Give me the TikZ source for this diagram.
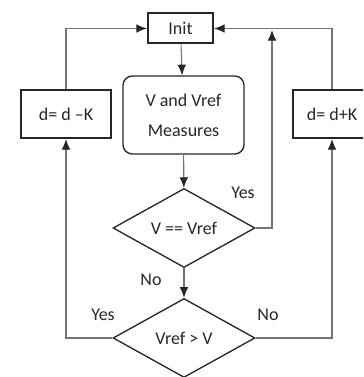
\documentclass[tikz,border=0pt]{standalone}
\usepackage{fontspec}
\setmainfont{Carlito}
\usetikzlibrary{shapes.geometric,arrows.meta}
\begin{document}
\begin{tikzpicture}[x=0.75pt,y=-0.75pt,
  every node/.style={font=\fontsize{13.5}{22.5}\selectfont, text=black!85},
  box/.style={draw=black!85, line width=1.5pt, inner sep=0pt, align=center},
  rbox/.style={box, rounded corners=7pt, line width=1pt},
  dec/.style={draw=black!85, line width=1pt, diamond, inner sep=0pt,
    minimum width=106.5pt, minimum height=59.25pt},
  conn/.style={draw=black!55, line width=0.8pt},
  arr/.style={conn, -{Latex[length=8pt,width=6.5pt,color=black!85]}},
  lbl/.style={inner sep=0pt}
]
\useasboundingbox (0,0) rectangle (363,377);
\clip (0,0) rectangle (363,377);
\node[box, minimum width=48.75pt, minimum height=22.5pt] (init) at (180.5,28.5) {Init};
\node[rbox, minimum width=90.75pt, minimum height=58.5pt] (meas) at (183.5,115) {V and Vref\\Measures};
\node[box, minimum width=67.5pt, minimum height=36pt] (lbox) at (66,114) {d= d –K};
\node[box, minimum width=58.5pt, minimum height=36pt] (rbox) at (332,114) {d= d+K};
\node[dec] (d1) at (184,228) {V == Vref};
\node[dec] (d2) at (184,338) {Vref > V};
\coordinate (j) at (272,30);
\node[lbl] (yes1) at (243,193) {Yes};
\node[lbl] (no1) at (151,280) {No};
\node[lbl] (yes2) at (103,315) {Yes};
\node[lbl] (no2) at (268,315) {No};
\draw[arr] (init) -- (meas);
\draw[arr] (meas) -- (d1);
\draw[arr] (d1) -- (d2);
\draw[arr] (lbox.north) |- (init.west);
\draw[arr] (rbox.north) |- (init.east);
\draw[arr] (d1.east) -| (j);
\draw[arr] (d2.west) -| (lbox.south);
\draw[arr] (d2.east) -| (rbox.south);
\end{tikzpicture}
\end{document}
